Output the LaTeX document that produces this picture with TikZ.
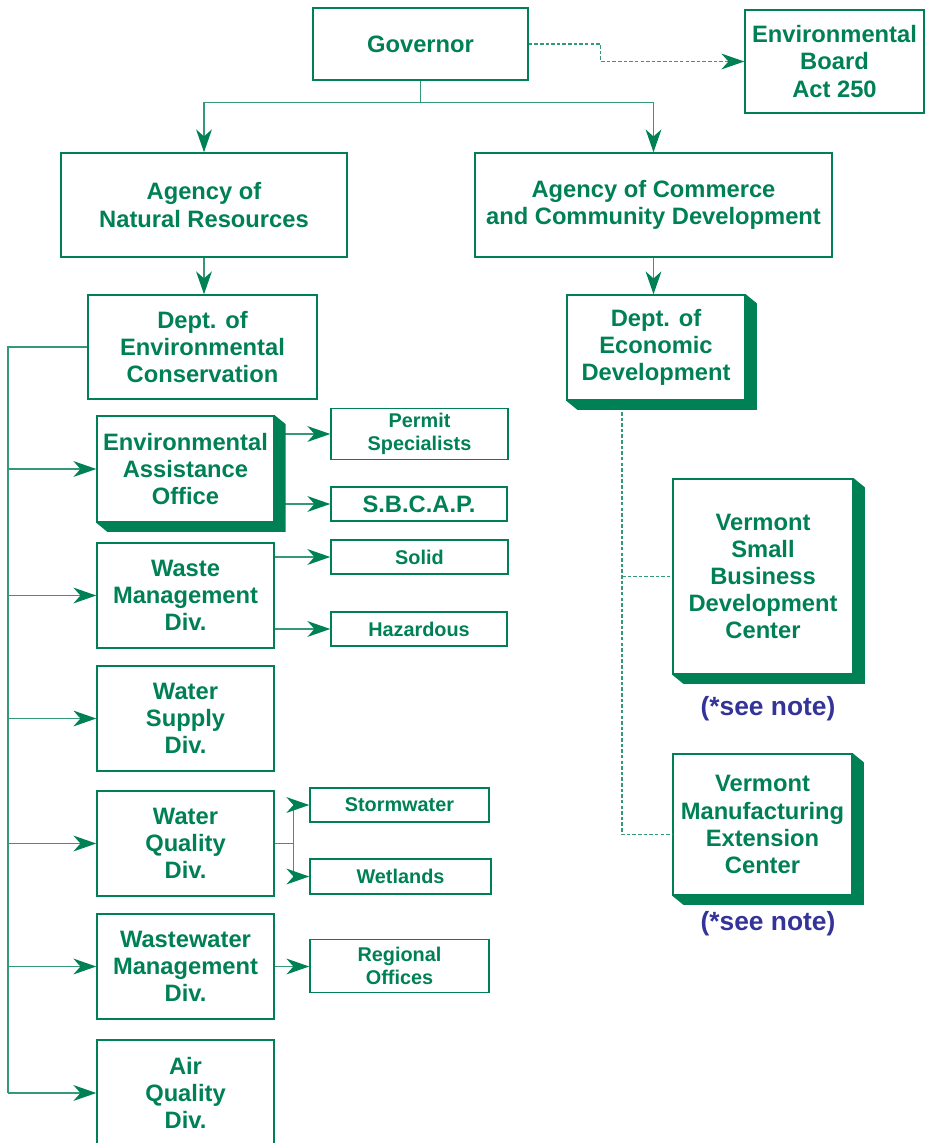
\documentclass[tikz,border=0pt]{standalone}
\usepackage{fontspec}
\setmainfont{Liberation Sans}
\usetikzlibrary{arrows.meta}
\usetikzlibrary{calc}
\definecolor{vtgreen}{HTML}{008055}
\definecolor{noteblue}{HTML}{333399}
% green drop shade below and right of a node
\newcommand\dropshade[1]{\fill[vtgreen] (#1.north east) -- ++(11,9) |- ($(#1.south west)+(11,9)$) -- (#1.south west) -- (#1.south east) -- cycle;}

\begin{document}
\begin{tikzpicture}[x=0.02cm,y=-0.02cm,
  orgbox/.style={draw=vtgreen, line width=0.85pt, text=vtgreen, fill=white, align=center, inner sep=0pt,
    font=\fontsize{13.5}{15.4}\selectfont\bfseries},
  subbox/.style={orgbox, font=\fontsize{11.3}{13}\selectfont\bfseries},
  sz/.style 2 args={minimum width=#1*0.02cm, minimum height=#2*0.02cm},
  conn/.style={draw=vtgreen!80, line width=0.85pt},
  tip/.style={-{Stealth[length=13pt, width=9pt, inset=4pt, color=vtgreen]}},
  arr/.style={conn, tip},
  dashconn/.style={conn, dash pattern=on 2pt off 1.2pt},
  seenote/.style={text=noteblue, font=\fontsize{15}{17}\selectfont\bfseries}]
 \clip (0,0) rectangle (931,1143);

 \node[orgbox, sz={215}{72}] (gov) at (420.5,44) {Governor};
 \node[orgbox, sz={179}{103}] (board) at (834.5,61.5) {Environmental\\Board\\Act 250};
 \node[orgbox, sz={286}{104}] (anr) at (204,205) {Agency of\\Natural Resources};
 \node[orgbox, sz={357}{104}] (accd) at (653.5,205) {Agency of Commerce\\and Community Development};
 \node[orgbox, sz={229}{104}] (dec) at (202.5,347) {Dept. of\\Environmental\\Conservation};
 \node[orgbox, sz={178}{105}] (ded) at (656,347.5) {Dept. of\\Economic\\Development};

 % divisions
 \node[orgbox, sz={177}{106}] (eao) at (185.5,469) {Environmental\\Assistance\\Office};
 \node[orgbox, sz={177}{105}] (waste) at (185.5,595.5) {Waste\\Management\\Div.};
 \node[orgbox, sz={177}{105}] (wsupply) at (185.5,718.5) {Water\\Supply\\Div.};
 \node[orgbox, sz={177}{105}] (wq) at (185.5,843.5) {Water\\Quality\\Div.};
 \node[orgbox, sz={177}{105}] (ww) at (185.5,966.5) {Wastewater\\Management\\Div.};
 \node[orgbox, sz={177}{106}] (air) at (185.5,1093) {Air\\Quality\\Div.};

 % sections
 \node[subbox, sz={177}{51}] (permit) at (419.5,434) {Permit\\Specialists};
 \node[orgbox, sz={176}{34}] (sbcap) at (419,504) {S.B.C.A.P.};
 \node[subbox, sz={177}{34}] (solid) at (419.5,557) {Solid};
 \node[subbox, sz={176}{34}] (haz) at (419,629) {Hazardous};
 \node[subbox, sz={179}{34}] (storm) at (399.5,805) {Stormwater};
 \node[subbox, sz={181}{35}] (wet) at (400.5,876.5) {Wetlands};
 \node[subbox, sz={179}{53}] (reg) at (399.5,966) {Regional\\Offices};

 % centers
 \node[orgbox, sz={180}{195}] (vsbdc) at (763,576.5) {Vermont\\Small\\Business\\Development\\Center};
 \node[orgbox, sz={179}{141}] (vmec) at (762.5,824.5) {Vermont\\Manufacturing\\Extension\\Center};
 \node[seenote] (note1) at (768,709) {(*see note)};
 \node[seenote] (note2) at (768,924) {(*see note)};

 % connectors
 \draw[arr] (gov.south) -- ++(0,22) -| (anr.north);
 \draw[arr] (gov.south) -- ++(0,22) -| (accd.north);
 \draw[dashconn, tip] (gov.east) -- ++(72,0) |- (board.west);
 \draw[arr] (anr.south) -- (anr.south |- dec.north);
 \draw[arr] (accd.south) -- (accd.south |- ded.north);

 \coordinate (spine) at (8,0);
 \draw[conn] (dec.west) -| (spine |- air.west);
 \foreach \d in {eao,waste,wsupply,wq,ww,air}
   \draw[arr] (spine |- \d.west) -- (\d.west);

 \draw[arr] (eao.east |- permit.west) -- (permit.west);
 \draw[arr] (eao.east |- sbcap.west) -- (sbcap.west);
 \draw[arr] (waste.east |- solid.west) -- (solid.west);
 \draw[arr] (waste.east |- haz.west) -- (haz.west);
 \draw[conn] (wq.east) -- ++(19,0) coordinate (wqfork);
 \draw[arr] (wqfork) |- (storm.west);
 \draw[arr] (wqfork) |- (wet.west);
 \draw[arr] (ww.east) -- (reg.west |- ww.east);

 \coordinate (edline) at (622,0);
 \coordinate (vmecin) at ($(vmec.south west)!.43!(vmec.north west)$);
 \draw[dashconn] (edline |- ded.south) |- (vmecin);
 \draw[dashconn] (edline |- vsbdc.west) -- (vsbdc.west);

 \dropshade{eao}
 \dropshade{ded}
 \dropshade{vsbdc}
 \dropshade{vmec}
\end{tikzpicture}
\end{document}
